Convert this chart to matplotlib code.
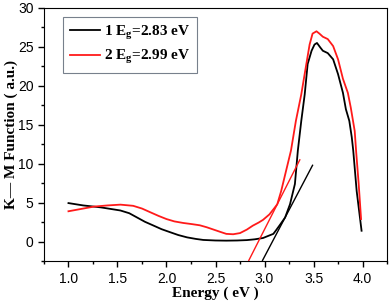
import numpy as np
import matplotlib
matplotlib.use("Agg")
import matplotlib.pyplot as plt
from matplotlib.ticker import MultipleLocator, FormatStrFormatter

# sample 1 (black)
e1 = [1.0, 1.15, 1.33, 1.53, 1.62, 1.70, 1.78, 1.87, 1.95, 2.04, 2.12, 2.21,
      2.30, 2.375, 2.5, 2.61, 2.72, 2.82, 2.9, 2.985, 3.05, 3.09, 3.12, 3.16,
      3.21, 3.26, 3.31, 3.34, 3.375, 3.41, 3.44, 3.48, 3.51, 3.535, 3.57, 3.595,
      3.645, 3.70, 3.75, 3.80, 3.83, 3.865, 3.89, 3.905, 3.94, 3.99]
km1 = [4.95, 4.65, 4.4, 4.0, 3.65, 3.1, 2.55, 2.05, 1.6, 1.2, 0.85, 0.55, 0.35,
       0.22, 0.15, 0.13, 0.15, 0.2, 0.3, 0.47, 0.8, 1.0, 1.5, 2.2, 3.1, 4.8,
       7.4, 11.7, 15.5, 18.9, 22.8, 24.5, 25.3, 25.5, 24.9, 24.5, 24.2, 23.4,
       21.5, 19.1, 17.0, 15.5, 13.4, 11.7, 6.5, 1.4]

# sample 2 (red)
e2 = [1.0, 1.13, 1.26, 1.4, 1.53, 1.66, 1.75, 1.83, 1.92, 2.0, 2.08, 2.17, 2.26,
      2.34, 2.41, 2.48, 2.55, 2.61, 2.68, 2.75, 2.82, 2.88, 2.94, 2.985, 3.05,
      3.10, 3.13, 3.17, 3.22, 3.27, 3.32, 3.375, 3.42, 3.46, 3.49, 3.53, 3.56,
      3.595, 3.645, 3.70, 3.75, 3.80, 3.85, 3.88, 3.92, 3.935, 3.96, 3.985]
km2 = [3.9, 4.2, 4.5, 4.65, 4.75, 4.6, 4.25, 3.8, 3.3, 2.9, 2.6, 2.4, 2.25,
       2.1, 1.85, 1.55, 1.25, 1.0, 0.95, 1.1, 1.55, 2.05, 2.45, 2.8, 3.5, 4.3,
       4.8, 6.5, 9.1, 11.7, 15.5, 18.9, 22.3, 25.3, 26.7, 27.0, 26.7, 26.3,
       26.0, 25.1, 23.4, 20.9, 19.1, 17.2, 14.2, 11.5, 7.5, 2.9]

# tangent lines used for the band gap
tan1_e = [2.98, 3.49]
tan1_v = [-2.4, 9.8]
tan2_e = [2.84, 3.36]
tan2_v = [-2.4, 10.5]

labels = ["1 E$_\\mathrm{g}$=2.83 eV", "2 E$_\\mathrm{g}$=2.99 eV"]

plt.rcParams["mathtext.fontset"] = "custom"
plt.rcParams["mathtext.rm"] = "Liberation Serif:bold"
plt.rcParams["mathtext.it"] = "Liberation Serif:bold"
plt.rcParams["mathtext.bf"] = "Liberation Serif:bold"

red = "#ff1a1a"

fig = plt.figure(figsize=(3.89, 3.04), dpi=100)
ax = fig.add_axes([0.113, 0.141, 0.882, 0.833])

ax.plot(e1, km1, color="black", lw=1.3, label=labels[0])
ax.plot(e2, km2, color=red, lw=1.3, label=labels[1])
ax.plot(tan2_e, tan2_v, color=red, lw=1.0)
ax.plot(tan1_e, tan1_v, color="black", lw=1.0)

ax.set_xlim(0.75, 4.25)
ax.set_ylim(-2.5, 30)
ax.xaxis.set_major_locator(MultipleLocator(0.5))
ax.xaxis.set_minor_locator(MultipleLocator(0.25))
ax.yaxis.set_major_locator(MultipleLocator(5))
ax.yaxis.set_minor_locator(MultipleLocator(2.5))
ax.xaxis.set_major_formatter(FormatStrFormatter("%.1f"))
ax.tick_params(which="both", direction="out", top=False, right=False,
               labelsize=10)
ax.tick_params(which="major", length=4, width=1)
ax.tick_params(which="minor", length=2.5, width=1)
for lab in ax.get_xticklabels() + ax.get_yticklabels():
    lab.set_family("Liberation Sans")

serif = {"family": "Liberation Serif", "weight": "bold", "size": 11}
ax.set_xlabel("Energy ( eV )", fontdict=serif, labelpad=1)
ax.set_ylabel("K\u2014 M Function ( a.u.)", fontdict=serif, labelpad=0)

leg = ax.legend(loc="upper left", bbox_to_anchor=(0.055, 0.964),
                prop={"family": "Liberation Serif", "weight": "bold", "size": 11},
                handlelength=2.0, handletextpad=0.25, fancybox=False,
                borderpad=0.45, labelspacing=0.4, borderaxespad=0)
leg.get_frame().set_edgecolor("#556070")
leg.get_frame().set_linewidth(0.8)

fig.savefig("out.png", dpi=100)
